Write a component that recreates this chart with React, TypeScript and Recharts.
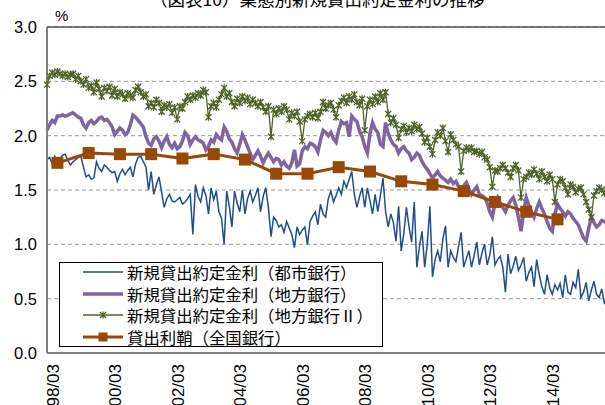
import { LineChart, Line, XAxis, YAxis, CartesianGrid, ReferenceLine, Legend } from 'recharts';

// 月次データ（1997年11月から）
const START_YEAR = 1997;
const START_MONTH = 11;

// 新規貸出約定金利（都市銀行）
const cityBanks = [
  1.78, 1.80, 1.74, 1.81, 1.75, 1.79, 1.82, 1.83, 1.77, 1.73, 1.76, 1.78,
  1.80, 1.81, 1.71, 1.62, 1.64, 1.60, 1.61, 1.76, 1.70, 1.67, 1.73, 1.71,
  1.68, 1.66, 1.67, 1.58, 1.65, 1.69, 1.64, 1.68, 1.71, 1.62, 1.74, 1.80,
  1.81, 1.76, 1.71, 1.50, 1.67, 1.46, 1.55, 1.62, 1.48, 1.34, 1.42, 1.46,
  1.40, 1.39, 1.41, 1.43, 1.37, 1.39, 1.42, 1.46, 1.09, 1.55, 1.44, 1.39,
  1.52, 1.45, 1.28, 1.52, 1.41, 1.49, 1.30, 1.24, 1.00, 1.49, 1.35, 1.16,
  1.49, 1.38, 1.30, 1.50, 1.28, 1.42, 1.49, 1.39, 1.45, 1.52, 1.30, 1.44,
  1.52, 1.34, 1.07, 1.25, 1.22, 1.16, 1.18, 1.11, 1.21, 1.15, 1.09, 0.97,
  1.16, 1.09, 1.13, 1.16, 1.00, 1.21, 1.26, 1.30, 1.18, 1.37, 1.28, 1.25,
  1.42, 1.49, 1.39, 1.45, 1.52, 1.46, 1.58, 1.52, 1.60, 1.67, 1.46, 1.34,
  1.44, 1.52, 1.34, 1.52, 1.40, 1.28, 1.46, 1.30, 1.45, 1.61, 1.30, 1.16,
  1.28, 1.20, 1.03, 1.35, 0.94, 1.10, 1.34, 1.16, 1.02, 1.39, 0.79, 0.98,
  1.12, 0.79, 1.00, 1.35, 0.70, 0.86, 0.94, 0.84, 1.05, 1.17, 0.79, 0.94,
  0.88, 0.84, 0.98, 1.11, 0.79, 0.87, 0.94, 0.79, 0.90, 1.02, 0.81, 0.92,
  1.00, 0.81, 0.90, 1.07, 0.81, 0.86, 0.89, 0.79, 0.56, 0.91, 0.73, 0.80,
  0.89, 0.76, 0.81, 0.88, 0.66, 0.74, 0.79, 0.61, 0.86, 0.72, 0.61, 0.54,
  0.72, 0.60, 0.54, 0.63, 0.58, 0.64, 0.51, 0.72, 0.56, 0.54, 0.65, 0.60,
  0.77, 0.51, 0.56, 0.65, 0.48, 0.58, 0.66, 0.54, 0.51, 0.59, 0.46, 0.50,
];

// 新規貸出約定金利（地方銀行）
const regionalBanks = [
  2.05, 2.10, 2.14, 2.12, 2.18, 2.18, 2.19, 2.18, 2.19, 2.20, 2.21, 2.19,
  2.17, 2.16, 2.10, 2.07, 2.12, 2.14, 2.11, 2.13, 2.16, 2.17, 2.14, 2.15,
  2.12, 2.08, 2.01, 2.04, 2.07, 2.05, 2.01, 2.03, 2.10, 2.19, 2.17, 2.14,
  2.11, 2.08, 1.99, 1.93, 1.91, 1.97, 1.99, 1.95, 1.89, 1.95, 1.99, 1.92,
  1.89, 1.93, 1.88, 1.90, 1.95, 2.03, 2.00, 1.92, 1.96, 1.99, 1.96, 1.95,
  1.93, 1.87, 1.90, 1.96, 1.94, 2.01, 1.98, 1.96, 2.08, 2.04, 1.97, 1.94,
  1.88, 1.84, 1.92, 2.01, 1.96, 1.90, 1.84, 1.78, 1.82, 1.86, 1.81, 1.75,
  1.80, 1.84, 1.80, 1.76, 1.79, 1.78, 1.73, 1.76, 1.72, 1.70, 1.75, 1.87,
  1.72, 1.74, 1.86, 1.90, 1.88, 1.93, 1.92, 1.90, 1.85, 1.96, 2.05, 2.03,
  2.00, 2.03, 1.97, 1.94, 2.05, 2.13, 2.11, 2.12, 1.99, 2.18, 2.15, 2.13,
  2.04, 1.99, 1.90, 1.84, 2.02, 2.12, 2.06, 2.03, 1.92, 1.90, 2.12, 2.02,
  1.96, 1.92, 1.90, 1.84, 1.88, 1.90, 1.86, 1.84, 1.78, 1.80, 1.84, 1.82,
  1.76, 1.72, 1.69, 1.65, 1.61, 1.64, 1.67, 1.63, 1.61, 1.59, 1.57, 1.60,
  1.56, 1.58, 1.53, 1.49, 1.54, 1.57, 1.51, 1.46, 1.50, 1.53, 1.46, 1.45,
  1.43, 1.38, 1.30, 1.25, 1.38, 1.43, 1.38, 1.34, 1.30, 1.36, 1.40, 1.43,
  1.36, 1.25, 1.12, 1.30, 1.43, 1.36, 1.30, 1.25, 1.33, 1.39, 1.33, 1.28,
  1.21, 1.15, 1.12, 1.28, 1.37, 1.33, 1.30, 1.26, 1.30, 1.28, 1.24, 1.21,
  1.18, 1.12, 1.06, 1.03, 1.15, 1.25, 1.20, 1.16, 1.18, 1.22, 1.21, 1.19,
];

// 新規貸出約定金利（地方銀行Ⅱ）
const secondRegionalBanks = [
  2.47, 2.55, 2.58, 2.56, 2.59, 2.57, 2.55, 2.57, 2.54, 2.56, 2.57, 2.52,
  2.55, 2.50, 2.47, 2.52, 2.44, 2.46, 2.40, 2.49, 2.43, 2.36, 2.44, 2.41,
  2.45, 2.37, 2.43, 2.36, 2.40, 2.38, 2.34, 2.39, 2.37, 2.35, 2.42, 2.45,
  2.40, 2.36, 2.38, 2.27, 2.30, 2.26, 2.33, 2.30, 2.22, 2.28, 2.26, 2.29,
  2.21, 2.26, 2.15, 2.27, 2.25, 2.31, 2.36, 2.33, 2.37, 2.35, 2.39, 2.37,
  2.42, 2.40, 2.17, 2.27, 2.30, 2.26, 2.33, 2.38, 2.44, 2.36, 2.39, 2.31,
  2.27, 2.34, 2.30, 2.36, 2.32, 2.35, 2.29, 2.33, 2.30, 2.27, 2.31, 2.26,
  2.22, 2.27, 1.99, 2.24, 2.20, 2.25, 2.22, 2.27, 2.24, 2.15, 2.21, 2.18,
  2.22, 2.13, 1.95, 2.15, 2.18, 2.20, 2.17, 2.21, 2.16, 2.22, 2.31, 2.25,
  2.28, 2.30, 2.24, 2.17, 2.28, 2.32, 2.35, 2.30, 2.36, 2.33, 2.38, 2.31,
  2.28, 2.34, 2.05, 2.27, 2.33, 2.29, 2.36, 2.31, 2.39, 2.33, 2.40, 2.20,
  2.12, 2.16, 2.10, 1.98, 2.06, 2.09, 2.03, 2.07, 2.04, 2.10, 2.06, 2.08,
  2.02, 1.94, 1.98, 1.90, 1.83, 1.96, 2.03, 2.00, 2.07, 1.95, 1.85, 2.01,
  1.96, 1.92, 1.90, 1.67, 1.86, 1.89, 1.87, 1.89, 1.85, 1.86, 1.83, 1.85,
  1.80, 1.78, 1.71, 1.53, 1.68, 1.67, 1.70, 1.73, 1.70, 1.66, 1.62, 1.70,
  1.73, 1.68, 1.43, 1.60, 1.62, 1.66, 1.64, 1.69, 1.65, 1.60, 1.67, 1.62,
  1.58, 1.64, 1.60, 1.39, 1.55, 1.60, 1.58, 1.52, 1.46, 1.55, 1.53, 1.48,
  1.51, 1.52, 1.46, 1.39, 1.32, 1.25, 1.45, 1.49, 1.52, 1.50, 1.47, 1.50,
];

// 貸出利鞘（全国銀行）、各年3月
const spreadDates = [
  '98/03', '99/03', '00/03', '01/03', '02/03', '03/03', '04/03', '05/03', '06/03',
  '07/03', '08/03', '09/03', '10/03', '11/03', '12/03', '13/03', '14/03',
];
const spreadAll = [
  1.75, 1.84, 1.83, 1.83, 1.79, 1.83, 1.78, 1.65, 1.65,
  1.71, 1.67, 1.58, 1.55, 1.49, 1.39, 1.30, 1.23,
];

const xTickLabels = ['98/03', '00/03', '02/03', '04/03', '06/03', '08/03', '10/03', '12/03', '14/03'];
const yTicks = [0, 0.5, 1, 1.5, 2, 2.5, 3];

const TITLE = '（図表10）業態別新規貸出約定金利の推移';

const SERIES = [
  { key: 'city', name: '新規貸出約定金利（都市銀行）', color: '#1f4e8c', width: 1.5 },
  { key: 'regional', name: '新規貸出約定金利（地方銀行）', color: '#8064a2', width: 3.5 },
  { key: 'regional2', name: '新規貸出約定金利（地方銀行Ⅱ）', color: '#4f6228', width: 1.3 },
  { key: 'spread', name: '貸出利鞘（全国銀行）', color: '#984807', width: 3 },
];

const JP_FONT = '"Noto Sans CJK JP", "Noto Sans", sans-serif';
const NUM_FONT = '"Liberation Sans", Arial, sans-serif';

// 'yy/mm' -> 開始月からの月数
const monthIndex = (label: string) => {
  const [yy, mm] = label.split('/').map(Number);
  const year = yy < 50 ? 2000 + yy : 1900 + yy;
  return (year - START_YEAR) * 12 + (mm - START_MONTH);
};

const monthLabel = (m: number) => {
  const total = START_MONTH - 1 + m;
  const year = START_YEAR + Math.floor(total / 12);
  const month = (total % 12) + 1;
  return `${String(year % 100).padStart(2, '0')}/${String(month).padStart(2, '0')}`;
};

const data = cityBanks.map((v, i) => ({
  m: i,
  city: v,
  regional: regionalBanks[i],
  regional2: secondRegionalBanks[i],
  spread: null as number | null,
}));
spreadDates.forEach((d, k) => {
  const row = data[monthIndex(d)];
  if (row) row.spread = spreadAll[k];
});

const xTicks = xTickLabels.map(monthIndex);

const StarDot = (props: any) => {
  const { cx, cy, index } = props;
  if (cx == null || cy == null) return <g key={`s${index}`} />;
  const r = 3;
  return (
    <path
      key={`s${index}`}
      d={`M${cx - r},${cy - r}L${cx + r},${cy + r}M${cx - r},${cy + r}L${cx + r},${cy - r}M${cx},${cy - r - 0.5}L${cx},${cy + r + 0.5}`}
      stroke="#4f6228"
      strokeWidth={1.3}
      fill="none"
    />
  );
};

const SquareDot = (props: any) => {
  const { cx, cy, index } = props;
  if (cx == null || cy == null) return <g key={`q${index}`} />;
  return <rect key={`q${index}`} x={cx - 6} y={cy - 6} width={12} height={12} fill="#984807" />;
};

// 縦書きの日付ラベル
const XTick = (props: any) => {
  const { x, y, payload } = props;
  const tx = x - 4;
  const ty = y + 3;
  return (
    <text
      x={tx}
      y={ty}
      transform={`rotate(-90 ${tx} ${ty})`}
      textAnchor="end"
      dominantBaseline="central"
      fontSize={17}
      fontFamily={NUM_FONT}
      fill="#000"
    >
      {monthLabel(payload.value)}
    </text>
  );
};

const LegendBox = () => (
  <div
    style={{
      position: 'relative',
      width: 324,
      height: 85,
      border: '1.5px solid #000',
      background: '#fff',
      boxSizing: 'border-box',
    }}
  >
    {SERIES.map((s, i) => (
      <div
        key={s.key}
        style={{ position: 'absolute', left: 0, top: 9 + i * 21.5 - 10, height: 20, width: '100%' }}
      >
        <svg width={40} height={20} style={{ position: 'absolute', left: 23, top: 0 }}>
          <line x1={0} y1={10} x2={40} y2={10} stroke={s.color} strokeWidth={s.width} />
          {s.key === 'regional2' && <StarDot cx={20} cy={10} index={0} />}
          {s.key === 'spread' && <rect x={15.5} y={5.5} width={9} height={9} fill={s.color} />}
        </svg>
        <span
          style={{
            position: 'absolute',
            left: 67,
            top: 0,
            lineHeight: '20px',
            fontSize: 16.4,
            fontFamily: JP_FONT,
            color: '#000',
            whiteSpace: 'nowrap',
          }}
        >
          {s.name}
        </span>
      </div>
    ))}
  </div>
);

export default function App() {
  return (
    <div
      style={{
        position: 'fixed',
        left: 0,
        top: 0,
        width: 605,
        height: 405,
        overflow: 'hidden',
        background: '#fff',
      }}
    >
      <div
        style={{
          position: 'absolute',
          left: 150,
          top: -10,
          fontSize: 17.5,
          lineHeight: '17px',
          fontFamily: JP_FONT,
          whiteSpace: 'nowrap',
          color: '#000',
        }}
      >
        {TITLE}
      </div>
      <div
        style={{
          position: 'absolute',
          left: 55,
          top: 8,
          fontSize: 15,
          lineHeight: '15px',
          fontFamily: NUM_FONT,
          color: '#000',
        }}
      >
        %
      </div>
      <LineChart
        width={625}
        height={410}
        data={data}
        margin={{ top: 27, right: 5, left: 0, bottom: 0 }}
      >
        <CartesianGrid vertical={false} stroke="#9a9a9a" strokeDasharray="4 3" />
        <ReferenceLine y={3} stroke="#555" strokeWidth={1.5} />
        <XAxis
          type="number"
          dataKey="m"
          domain={[0, 220]}
          ticks={xTicks}
          interval={0}
          height={57}
          tickLine={false}
          axisLine={{ stroke: '#808080', strokeWidth: 2 }}
          tick={<XTick />}
        />
        <YAxis
          domain={[0, 3]}
          ticks={yTicks}
          width={47}
          tickLine={false}
          tickSize={8}
          tickMargin={2}
          axisLine={{ stroke: '#808080', strokeWidth: 2 }}
          tickFormatter={(v: number) => v.toFixed(1)}
          tick={{ fill: '#000', fontSize: 16.5, fontFamily: NUM_FONT }}
        />
        <Legend
          layout="horizontal"
          verticalAlign="middle"
          align="center"
          content={() => <LegendBox />}
          wrapperStyle={{ position: 'absolute', left: 59, top: 262, width: 324, height: 85 }}
        />
        <Line
          type="linear"
          dataKey="city"
          name={SERIES[0].name}
          stroke={SERIES[0].color}
          strokeWidth={SERIES[0].width}
          dot={false}
          isAnimationActive={false}
        />
        <Line
          type="linear"
          dataKey="regional"
          name={SERIES[1].name}
          stroke={SERIES[1].color}
          strokeWidth={SERIES[1].width}
          dot={false}
          isAnimationActive={false}
        />
        <Line
          type="linear"
          dataKey="regional2"
          name={SERIES[2].name}
          stroke={SERIES[2].color}
          strokeWidth={SERIES[2].width}
          dot={<StarDot />}
          isAnimationActive={false}
        />
        <Line
          type="linear"
          dataKey="spread"
          name={SERIES[3].name}
          stroke={SERIES[3].color}
          strokeWidth={SERIES[3].width}
          connectNulls
          dot={<SquareDot />}
          isAnimationActive={false}
        />
      </LineChart>
    </div>
  );
}
